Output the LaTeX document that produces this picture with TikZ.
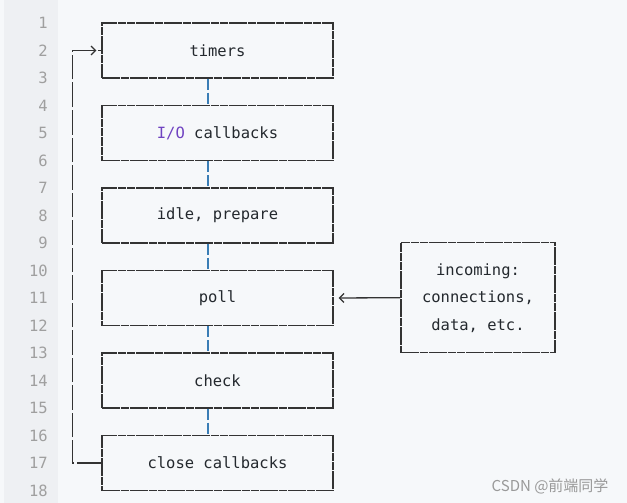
\documentclass[tikz,border=0pt]{standalone}
\usepackage{fontspec}
\setmonofont{DejaVu Sans Mono}
\newfontfamily\cjkfont{Noto Sans CJK SC}
\usetikzlibrary{arrows.meta}

\definecolor{codebg}{HTML}{F6F8FA}
\definecolor{gutterbg}{HTML}{EEF0F3}
\definecolor{boxgray}{HTML}{333333}
\definecolor{codetext}{HTML}{24292E}
\definecolor{kwpurple}{HTML}{6F42C1}
\definecolor{linkblue}{HTML}{3A7DB5}

\tikzset{
  stage/.style={draw=boxgray, line width=1.3pt, dash pattern=on 8.6pt off 0.7pt,
    minimum width=231pt, minimum height=55pt, inner sep=0pt,
    font=\ttfamily\fontsize{15.5}{27.5}\selectfont, text=codetext},
  link/.style={draw=linkblue, line width=1.3pt, dash pattern=on 11pt off 3pt},
  loopline/.style={draw=boxgray, line width=1.3pt, dash pattern=on 24.5pt off 3pt},
  arrowline/.style={draw=boxgray, line width=1.3pt,
    -{Straight Barb[length=4.5pt,width=9pt,line width=1.2pt]}, shorten >=5pt},
  lineno/.style={anchor=east, inner sep=0pt, text=gray!75,
    font=\ttfamily\fontsize{15.5}{18}\selectfont}
}

\begin{document}
\begin{tikzpicture}[x=1pt, y=-1pt]
	\useasboundingbox (0,0) rectangle (627,503);
	\fill [codebg] (0,0) rectangle (627,503);
	\fill [gutterbg] (4,0) rectangle (58,503);
	
	% line numbers
	\foreach \n in {1,...,18}
		\node [lineno] (num\n) at (48, {23+27.5*(\n-1)}) {\n};
	
	% event loop phases
	\node [stage] (timers) at (217.5, 50.5) {timers};
	\node [stage] (io) at (217.5, 133) {\textcolor{kwpurple}{I/O} callbacks};
	\node [stage] (idle) at (217.5, 215.5) {idle, prepare};
	\node [stage] (poll) at (217.5, 298) {poll};
	\node [stage] (check) at (217.5, 380.5) {check};
	\node [stage] (close) at (217.5, 463) {close callbacks};
	
	\node [stage, minimum width=154pt, minimum height=110pt, align=center]
		(incoming) at (478, 297.7) {incoming:\\connections,\\data, etc.};
	
	\foreach \a/\b in {timers/io, io/idle, idle/poll, poll/check, check/close}
		\draw [link] ([xshift=-9.5pt]\a.south) -- ([xshift=-9.5pt]\b.north);
	
	\draw [loopline] (close.west) -- ++(-29,0) |- (timers.west);
	\draw [arrowline] (73,50.5) -- (timers.west);
	\draw [arrowline] (incoming.west) -- (poll.east);
	
	\node [text=gray!80, font=\cjkfont\fontsize{15}{18}\selectfont, anchor=east]
		(mark) at (612, 486) {CSDN @前端同学};
\end{tikzpicture}
\end{document}
